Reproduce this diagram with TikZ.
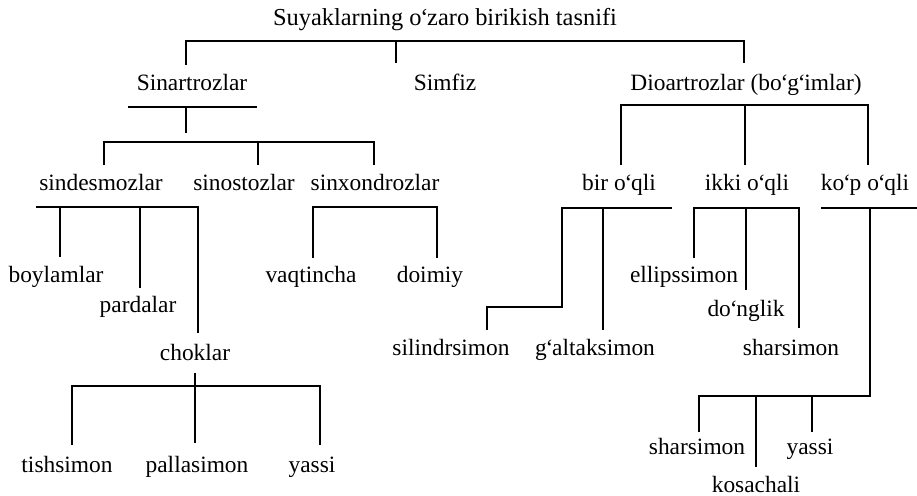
\documentclass[tikz,border=0pt]{standalone}
\usepackage{fontspec}
\setmainfont{Liberation Serif}
\newcommand{\oq}{\kern-0.05em‘\kern-0.05em}
\tikzset{
  lbl/.style={anchor=base, inner sep=0pt, font=\fontsize{11.7}{14}\selectfont},
  bar/.style={line width=1.1pt}
}
\begin{document}
\begin{tikzpicture}[x=0.5pt, y=-0.5pt]
  \useasboundingbox (0,0) rectangle (917,495);
  % labels
  \node[lbl, font=\fontsize{12.2}{14}\selectfont] (title) at (445,25) {Suyaklarning o\oq zaro birikish tasnifi};
  \node[lbl] (sin) at (192,90) {Sinartrozlar};
  \node[lbl] (simf) at (445,90) {Simfiz};
  \node[lbl] (dio) at (746,90) {Dioartrozlar (bo\oq g\oq imlar)};
  \node[lbl] (sind) at (101,190) {sindesmozlar};
  \node[lbl] (sinost) at (244,190) {sinostozlar};
  \node[lbl] (sinx) at (375,190) {sinxondrozlar};
  \node[lbl] (bir) at (619,190) {bir o\oq qli};
  \node[lbl] (ikki) at (747,190) {ikki o\oq qli};
  \node[lbl] (kop) at (865,190) {ko\oq p o\oq qli};
  \node[lbl] (boyl) at (56,282) {boylamlar};
  \node[lbl] (pard) at (138,312) {pardalar};
  \node[lbl] (chok) at (195,360) {choklar};
  \node[lbl] (vaq) at (311,282) {vaqtincha};
  \node[lbl] (doim) at (430,282) {doimiy};
  \node[lbl] (tish) at (67,472) {tishsimon};
  \node[lbl] (pall) at (197,472) {pallasimon};
  \node[lbl] (yassiA) at (312,472) {yassi};
  \node[lbl] (sil) at (451,355) {silindrsimon};
  \node[lbl] (galt) at (595,355) {g\oq altaksimon};
  \node[lbl] (ell) at (684,282) {ellipssimon};
  \node[lbl] (dong) at (746,316) {do\oq nglik};
  \node[lbl] (sharA) at (791,355) {sharsimon};
  \node[lbl] (sharB) at (697,454) {sharsimon};
  \node[lbl] (kos) at (756,492) {kosachali};
  \node[lbl] (yassiB) at (810,454) {yassi};
  % bracket points
  \coordinate (a0) at (445,41);
  \coordinate (a1) at (186,65);
  \coordinate (a2) at (744,63);
  \coordinate (a3) at (396,63);
  \coordinate (bL) at (128,107);
  \coordinate (bR) at (257,107);
  \coordinate (b1) at (186,133);
  \coordinate (c0) at (258,142);
  \coordinate (c1) at (104,165);
  \coordinate (c2) at (258,165);
  \coordinate (c3) at (374,165);
  \coordinate (d0) at (36,207);
  \coordinate (d1) at (60,257);
  \coordinate (d2) at (140,288);
  \coordinate (d3) at (198,333);
  \coordinate (e0) at (195,373);
  \coordinate (eb) at (195,386);
  \coordinate (e1) at (72,445);
  \coordinate (e2) at (195,443);
  \coordinate (e3) at (320,445);
  \coordinate (fb) at (375,207);
  \coordinate (f1) at (313,258);
  \coordinate (f2) at (437,258);
  \coordinate (gb) at (745,105);
  \coordinate (g1) at (621,165);
  \coordinate (g2) at (745,165);
  \coordinate (g3) at (868,165);
  \coordinate (h0) at (672,208);
  \coordinate (hk) at (562,307);
  \coordinate (h1) at (487,330);
  \coordinate (h2) at (603,330);
  \coordinate (ib) at (746,208);
  \coordinate (i1) at (694,258);
  \coordinate (i2) at (746,290);
  \coordinate (i3) at (799,328);
  \coordinate (j0) at (821,208);
  \coordinate (jR) at (917,208);
  \coordinate (jk) at (870,396);
  \coordinate (j1) at (699,432);
  \coordinate (j2) at (756,467);
  \coordinate (j3) at (812,432);
  % brackets
  \draw[bar] (a1) |- (a0) -| (a2);
  \draw[bar] (a3) -- (a3 |- a0);
  \draw[bar] (bL) -- (bR);
  \draw[bar] (b1) -- (b1 |- bL);
  \draw[bar] (c1) |- (c0) -| (c3);
  \draw[bar] (c2) -- (c0);
  \draw[bar] (d0) -| (d3);
  \draw[bar] (d1) -- (d1 |- d0);
  \draw[bar] (d2) -- (d2 |- d0);
  \draw[bar] (e0) -- (e2);
  \draw[bar] (e1) |- (eb) -| (e3);
  \draw[bar] (f1) |- (fb) -| (f2);
  \draw[bar] (g1) |- (gb) -| (g3);
  \draw[bar] (g2) -- (gb);
  \draw[bar] (h0) -| (hk) -| (h1);
  \draw[bar] (h2) -- (h2 |- h0);
  \draw[bar] (i1) |- (ib) -| (i3);
  \draw[bar] (i2) -- (ib);
  \draw[bar] (j0) -- (jR);
  \draw[bar] (jk |- j0) -- (jk) -| (j1);
  \draw[bar] (j2) -- (j2 |- jk);
  \draw[bar] (j3) -- (j3 |- jk);
\end{tikzpicture}
\end{document}
